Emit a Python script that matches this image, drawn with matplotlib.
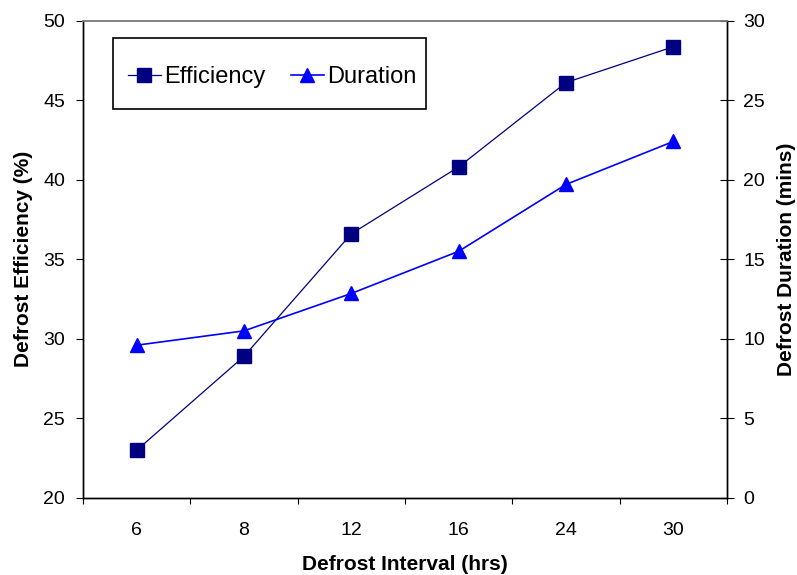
import matplotlib
matplotlib.use("Agg")
import matplotlib.pyplot as plt
from matplotlib.patches import Rectangle
from matplotlib.lines import Line2D

plt.rcParams['font.family'] = ['Liberation Sans', 'DejaVu Sans']

# data
intervals = ['6', '8', '12', '16', '24', '30']
efficiency = [23.0, 28.9, 36.6, 40.8, 46.1, 48.35]
duration = [9.6, 10.5, 12.85, 15.5, 19.7, 22.4]

navy = '#000080'
blue = '#0000FF'

fig = plt.figure(figsize=(7.97, 5.75), dpi=100)
ax1 = fig.add_axes([83/797, 77/575, 644/797, 477.5/575])
ax2 = ax1.twinx()

x = list(range(len(intervals)))
ax1.plot(x, efficiency, color=navy, lw=0.9, marker='s', ms=10.5,
         mfc=navy, mec=navy, label='Efficiency', zorder=3)
ax2.plot(x, duration, color=blue, lw=1.2, marker='^', ms=10.5,
         mfc=blue, mec=blue, label='Duration', zorder=3)

ax1.set_xlim(-0.5, 5.5)
ax1.set_ylim(20, 50)
ax2.set_ylim(0, 30)
ax1.set_yticks(range(20, 51, 5))
ax2.set_yticks(range(0, 31, 5))

# category ticks between the points, labels under the points
ax1.set_xticks([i - 0.5 for i in range(len(intervals) + 1)])
ax1.set_xticklabels([])
ax1.set_xticks(x, minor=True)
ax1.set_xticklabels(intervals, minor=True)
ax1.tick_params(axis='x', which='major', direction='out', length=4.5, width=0.8, color='black')
ax1.tick_params(axis='x', which='minor', length=0, pad=17, labelsize=14)
ax1.tick_params(axis='y', direction='out', length=5, width=0.8, pad=8, labelsize=14)
ax2.tick_params(axis='y', direction='inout', length=9.4, width=0.8, pad=7, labelsize=14)

for a in (ax1, ax2):
    a.spines['top'].set_color('#808080')
    a.spines['top'].set_linewidth(1.2)
    for s in ('left', 'right', 'bottom'):
        a.spines[s].set_color('black')
        a.spines[s].set_linewidth(1.0)

ax1.set_xlabel('Defrost Interval (hrs)', fontsize=15, fontweight='bold', labelpad=12)
ax1.set_ylabel('Defrost Efficiency (%)', fontsize=15, fontweight='bold', labelpad=7)
ax2.set_ylabel('Defrost Duration (mins)', fontsize=15, fontweight='bold', labelpad=9)

# legend box
box = Rectangle((113/797, 1 - 109/575), 313/797, 71/575, transform=fig.transFigure,
                facecolor='white', edgecolor='black', lw=1.2, zorder=5)
fig.patches.append(box)
handles = [Line2D([], [], color=navy, lw=0.9, marker='s', ms=10, mfc=navy, mec=navy),
           Line2D([], [], color=blue, lw=1.2, marker='^', ms=10, mfc=blue, mec=blue)]
leg = fig.legend(handles, ['Efficiency', 'Duration'], loc='center left',
                 bbox_to_anchor=(109/797, 1 - 77/575), ncol=2, frameon=False,
                 fontsize=17, handlelength=1.4, handletextpad=0.15, columnspacing=1.05,
                 borderpad=0.3)
leg.set_zorder(6)

fig.savefig('out.png', dpi=100)
